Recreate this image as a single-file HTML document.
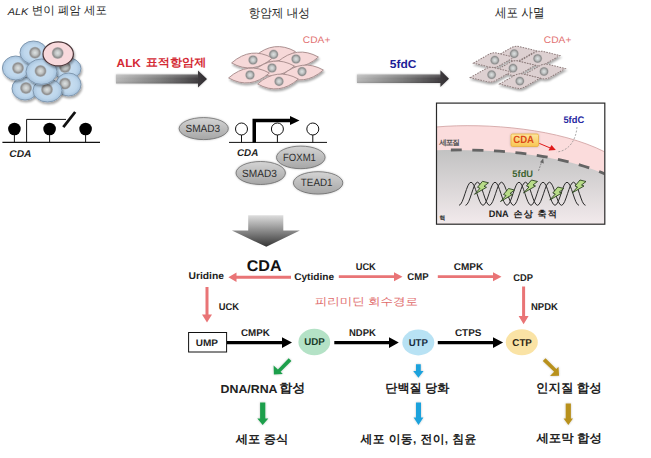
<!DOCTYPE html>
<html><head><meta charset="utf-8">
<style>
html,body{margin:0;padding:0;background:#fff;width:651px;height:458px;overflow:hidden}
svg{display:block;font-family:"Liberation Sans",sans-serif}
</style></head><body>
<svg width="651" height="458" viewBox="0 0 651 458" text-rendering="geometricPrecision">
<defs>
  <radialGradient id="nuc" cx="50%" cy="50%" r="50%">
    <stop offset="0" stop-color="#dde2e2"/><stop offset="0.45" stop-color="#c0c3c3"/><stop offset="0.8" stop-color="#8e8e8e"/><stop offset="1" stop-color="#9a9a9a" stop-opacity="0.6"/>
  </radialGradient>
  <radialGradient id="bcell" cx="50%" cy="50%" r="50%">
    <stop offset="0" stop-color="#cbe0f1"/><stop offset="0.7" stop-color="#bdd6ec"/><stop offset="1" stop-color="#a7c3dd"/>
  </radialGradient>
  <linearGradient id="arr" x1="0" x2="1" y1="0" y2="0">
    <stop offset="0" stop-color="#b8b8b8"/><stop offset="0.5" stop-color="#7a7a7a"/><stop offset="1" stop-color="#302c30"/>
  </linearGradient>
  <linearGradient id="bev" x1="0" x2="0" y1="0" y2="1">
    <stop offset="0" stop-color="#fff" stop-opacity="0.22"/><stop offset="0.5" stop-color="#fff" stop-opacity="0"/><stop offset="1" stop-color="#000" stop-opacity="0.12"/>
  </linearGradient>
  <linearGradient id="darr" x1="0" x2="0" y1="0" y2="1">
    <stop offset="0" stop-color="#dedede"/><stop offset="1" stop-color="#353535"/>
  </linearGradient>
  <linearGradient id="ell" x1="0" x2="0" y1="0" y2="1">
    <stop offset="0" stop-color="#d4d4d4"/><stop offset="1" stop-color="#a6a6a6"/>
  </linearGradient>
  <linearGradient id="nucl" x1="0" x2="0" y1="150" y2="224" gradientUnits="userSpaceOnUse">
    <stop offset="0" stop-color="#c2c2c2"/><stop offset="1" stop-color="#f2eaec"/>
  </linearGradient>
  <linearGradient id="cdabox" x1="0" x2="0" y1="0" y2="1">
    <stop offset="0" stop-color="#fde7a0"/><stop offset="1" stop-color="#f8c552"/>
  </linearGradient>
  <filter id="sh" x="-20%" y="-20%" width="140%" height="140%">
    <feGaussianBlur in="SourceAlpha" stdDeviation="1.1"/><feOffset dx="1.2" dy="1.5"/>
    <feComponentTransfer><feFuncA type="linear" slope="0.35"/></feComponentTransfer>
    <feMerge><feMergeNode/><feMergeNode in="SourceGraphic"/></feMerge>
  </filter>
  <filter id="glow" x="-30%" y="-30%" width="160%" height="160%">
    <feGaussianBlur in="SourceAlpha" stdDeviation="0.8"/>
    <feComponentTransfer><feFuncA type="linear" slope="0.25"/></feComponentTransfer>
    <feMerge><feMergeNode/><feMergeNode in="SourceGraphic"/></feMerge>
  </filter>
  <path id="spindle" d="M-20.5,1 Q0,-14.5 20.5,-1 Q0,14.5 -20.5,1 Z"/>
  <path id="dcell" d="M-20.5,1.5 L-4,-6.5 Q0,-8 4,-6.8 L20.5,-1.5 L4,6.5 Q0,8 -4,6.8 Z"/>
  <path id="bolt" d="M1.5,-6.5 L7.5,-5 L3,-1.5 L5.5,-0.5 L-6.5,6.5 L-1,0.5 L-3.5,-0.5 Z"/>
  <clipPath id="boxclip"><rect x="437" y="103.6" width="167.3" height="120.2"/></clipPath>
</defs>

<!-- Lung cancer cells cluster -->
<g filter="url(#sh)"><ellipse cx="67" cy="68.5" rx="14" ry="11" fill="url(#bcell)" stroke="#8098b0" stroke-width="1"/><circle cx="65" cy="67" r="6" fill="url(#nuc)"/></g>
<g filter="url(#sh)"><ellipse cx="68.5" cy="84.5" rx="12.5" ry="11.5" fill="url(#bcell)" stroke="#8098b0" stroke-width="1"/><circle cx="65" cy="83.6" r="6" fill="url(#nuc)"/></g>
<g filter="url(#sh)"><ellipse cx="25" cy="88.5" rx="13" ry="11.5" fill="url(#bcell)" stroke="#8098b0" stroke-width="1"/><circle cx="26" cy="88" r="6" fill="url(#nuc)"/></g>
<g filter="url(#sh)"><ellipse cx="47.5" cy="90.5" rx="14.5" ry="11.5" fill="url(#bcell)" stroke="#8098b0" stroke-width="1"/><circle cx="47" cy="89.6" r="6" fill="url(#nuc)"/></g>
<g filter="url(#sh)"><ellipse cx="15.7" cy="68" rx="13.3" ry="12" fill="url(#bcell)" stroke="#8098b0" stroke-width="1"/><circle cx="18" cy="68" r="6" fill="url(#nuc)"/></g>
<g filter="url(#sh)"><ellipse cx="33.5" cy="52.5" rx="13.5" ry="11.5" fill="url(#bcell)" stroke="#8098b0" stroke-width="1"/><circle cx="35" cy="52.7" r="6" fill="url(#nuc)"/></g>
<g filter="url(#sh)"><ellipse cx="41.5" cy="71.7" rx="15.5" ry="12.7" fill="url(#bcell)" stroke="#8098b0" stroke-width="1"/><circle cx="40.5" cy="71" r="6" fill="url(#nuc)"/></g>
<g filter="url(#sh)"><ellipse cx="58.2" cy="53.9" rx="15.2" ry="12" fill="#f8d9dc" stroke="#4a3538" stroke-width="1.2"/><circle cx="57.7" cy="53" r="6" fill="url(#nuc)"/></g>

<!-- Gene diagram left -->
<g stroke="#111" fill="none">
  <line x1="2.4" y1="142.4" x2="100" y2="142.4" stroke-width="1.2"/>
  <line x1="14.4" y1="129" x2="14.4" y2="142.4" stroke-width="1"/>
  <line x1="49.6" y1="129" x2="49.6" y2="142.4" stroke-width="1"/>
  <line x1="85.6" y1="129" x2="85.6" y2="142.4" stroke-width="1"/>
  <polyline points="26.6,142.4 26.6,119.4 66,119.4" stroke-width="1"/>
  <line x1="63.3" y1="127.2" x2="75.2" y2="112" stroke-width="2.8"/>
</g>
<g fill="#000"><circle cx="14.4" cy="129" r="6.3"/><circle cx="49.6" cy="129" r="6.3"/><circle cx="85.6" cy="129" r="6.3"/></g>

<!-- ALK arrow -->
<g filter="url(#glow)"><path d="M116,74.4 H198 V70.4 L207,79 L198,87.6 V83.4 H116 Z" fill="url(#arr)"/></g>
<path d="M116,74.4 H198 V83.4 H116 Z" fill="url(#bev)"/>

<!-- pink cells -->
<g filter="url(#sh)" fill="#f6d8d8" stroke="#a58a8a" stroke-width="0.9">
  <use href="#spindle" transform="translate(275,54) rotate(-4)"/>
  <use href="#spindle" transform="translate(298,59.5) rotate(-4)"/>
  <use href="#spindle" transform="translate(252,60.5) rotate(-4)"/>
  <use href="#spindle" transform="translate(274,68.5) rotate(-4)"/>
  <use href="#spindle" transform="translate(303,72.5) rotate(-4)"/>
  <use href="#spindle" transform="translate(249,75.5) rotate(-4)"/>
  <use href="#spindle" transform="translate(278,81.5) rotate(-4)"/>
</g>
<g fill="url(#nuc)">
  <circle cx="273.6" cy="54.4" r="4.8"/><circle cx="296" cy="59" r="4.8"/><circle cx="253" cy="60" r="4.8"/>
  <circle cx="272" cy="68" r="4.8"/><circle cx="302" cy="71.6" r="4.8"/><circle cx="250" cy="75" r="4.8"/>
  <circle cx="279" cy="81.4" r="4.8"/>
</g>

<!-- Gene diagram middle -->
<ellipse cx="203.7" cy="128.6" rx="24.6" ry="11" stroke="#6a6a6a" fill="url(#ell)" stroke-width="0.8" filter="url(#glow)"/>
<g stroke="#111" fill="none" stroke-width="1">
  <line x1="229" y1="142.4" x2="327" y2="142.4"/>
  <line x1="241.5" y1="135" x2="241.5" y2="142.4"/>
  <line x1="277.4" y1="135" x2="277.4" y2="142.4"/>
  <line x1="312.8" y1="135" x2="312.8" y2="142.4"/>
  <circle cx="241.5" cy="129" r="6" fill="#fff"/>
  <circle cx="277.4" cy="129" r="6" fill="#fff"/>
  <circle cx="312.8" cy="129" r="6" fill="#fff"/>
</g>
<path d="M252.5,142.4 V118.8 H290.5 V122.3 H256 V142.4 Z" fill="#000"/>
<path d="M290,115.9 L299.5,120.5 L290,125 Z" fill="#000"/>
<g stroke="#6a6a6a" fill="url(#ell)" stroke-width="0.8" filter="url(#glow)">
  <ellipse cx="300.8" cy="157.4" rx="24.3" ry="11.3"/>
  <ellipse cx="260.7" cy="173" rx="24.7" ry="11.5"/>
  <ellipse cx="318.1" cy="182.9" rx="24.7" ry="11.2"/>
</g>

<!-- 5fdC arrow -->
<g filter="url(#glow)"><path d="M357,74.6 H440.4 V70.3 L449,78.8 L440.4,87 V83 H357 Z" fill="url(#arr)"/></g>
<path d="M357,74.6 H440.4 V83 H357 Z" fill="url(#bev)"/>

<!-- dead cells -->
<g filter="url(#sh)" fill="#ddd0d1" stroke="#8e7c7c" stroke-width="1" stroke-dasharray="1.6 1.1">
  <use href="#dcell" transform="translate(516,53.7) rotate(-4)"/>
  <use href="#dcell" transform="translate(539.6,58.5) rotate(-4)"/>
  <use href="#dcell" transform="translate(493.8,60.2) rotate(-4)"/>
  <use href="#dcell" transform="translate(515,68.2) rotate(-4)"/>
  <use href="#dcell" transform="translate(545,71.5) rotate(-4)"/>
  <use href="#dcell" transform="translate(490.6,74.7) rotate(-4)"/>
  <use href="#dcell" transform="translate(519.8,81.1) rotate(-4)"/>
</g>
<g fill="url(#nuc)">
  <circle cx="514.2" cy="53.7" r="4.6"/><circle cx="537.6" cy="58.5" r="4.6"/><circle cx="494.8" cy="60.2" r="4.6"/>
  <circle cx="513" cy="68.2" r="4.6"/><circle cx="544" cy="71.5" r="4.6"/><circle cx="491.6" cy="74.7" r="4.6"/>
  <circle cx="519.8" cy="81.1" r="4.6"/>
</g>

<!-- inset box -->
<rect x="436.5" y="103.1" width="168.3" height="121.1" fill="#fff"/>
<g clip-path="url(#boxclip)">
  <path d="M436,127 C488,122.5 560,129 605,152 V230 H436 Z" fill="#fbdcdc" stroke="#d4a6a6" stroke-width="0.9"/>
  <path d="M436,150.2 C490,149 555,153 605,174 V230 H436 Z" fill="url(#nucl)"/>
  <path d="M445,150.1 C497,149.1 557,153.3 605,174" fill="none" stroke="#646464" stroke-width="2.8" stroke-dasharray="11 10.5" stroke-dashoffset="15.5"/>
</g>
<rect x="436.5" y="103.1" width="168.3" height="121.1" fill="none" stroke="#2a2a2a" stroke-width="1.2"/>
<rect x="511" y="134" width="27.5" height="12.5" rx="1.5" fill="url(#cdabox)" stroke="#e8b040" stroke-width="0.8" filter="url(#glow)"/>
<path d="M577,127 C576,140 569,151 556.6,152" fill="none" stroke="#888" stroke-width="0.7" stroke-dasharray="2 1.5"/>
<line x1="539.3" y1="143.4" x2="551" y2="148.3" stroke="#e01818" stroke-width="1"/>
<path d="M555.8,150.1 L548.5,150.5 L551.5,145 Z" fill="#e01818"/>
<line x1="538.5" y1="170.9" x2="542" y2="161" stroke="#777" stroke-width="0.8" stroke-dasharray="2 1"/>
<path d="M543.2,158.3 L543.8,163.5 L540,162.3 Z" fill="#666"/>
<g fill="none" stroke="#2a2a2a" stroke-width="1">
  <path d="M459.0,205.3 C463.4,205.3 466.6,182.2 471.0,182.2 S478.6,205.3 483.0,205.3 S490.6,182.2 495.0,182.2 S502.6,205.3 507.0,205.3 S514.6,182.2 519.0,182.2 S526.6,205.3 531.0,205.3 S538.6,182.2 543.0,182.2 S550.6,205.3 555.0,205.3 S562.6,182.2 567.0,182.2 S574.6,205.3 579.0,205.3"/>
  <path d="M465.5,205.3 C469.9,205.3 473.1,182.2 477.5,182.2 S485.1,205.3 489.5,205.3 S497.1,182.2 501.5,182.2 S509.1,205.3 513.5,205.3 S521.1,182.2 525.5,182.2 S533.1,205.3 537.5,205.3 S545.1,182.2 549.5,182.2 S557.1,205.3 561.5,205.3 S569.1,182.2 573.5,182.2 S581.1,205.3 585.5,205.3"/>
</g>
<g fill="#b8dc88" stroke="#243a1a" stroke-width="0.85">
  <use href="#bolt" transform="translate(481,187.8)"/>
  <use href="#bolt" transform="translate(507,195)"/>
  <use href="#bolt" transform="translate(530,186.5)"/>
  <use href="#bolt" transform="translate(556.3,193.5)"/>
  <use href="#bolt" transform="translate(578.5,186.5)"/>
</g>

<!-- big down arrow -->
<path d="M248.2,215.2 H283.3 V230.6 H299.9 L266.3,246.7 L231.9,230.6 H248.2 Z" fill="url(#darr)"/>

<!-- red arrows -->
<g fill="#e97476">
  <path d="M291,275.8 H236.5 V272.5 L228.4,277.3 L236.5,282.1 V278.8 H291 Z"/>
  <path d="M338.8,275.3 H394 V272.2 L402.5,276.7 L394,281.2 V278.1 H338.8 Z"/>
  <path d="M437.8,275.3 H493 V272.2 L501.5,276.7 L493,281.2 V278.1 H437.8 Z"/>
  <path d="M205.5,287 V314.5 H202 L207,322.6 L212,314.5 H208.5 V287 Z"/>
  <path d="M522.1,286.4 V316 H518.6 L523.6,324.2 L528.6,316 H525.1 V286.4 Z"/>
</g>
<!-- UMP box -->
<rect x="188.6" y="332.5" width="38" height="19.5" fill="#fff" stroke="#111" stroke-width="1"/>
<!-- black arrows -->
<g fill="#000">
  <path d="M227,340.9 H282 V337.2 L292,342.6 L282,348 V344.3 H227 Z"/>
  <path d="M334.3,340.9 H389 V337.2 L398.8,342.6 L389,348 V344.3 H334.3 Z"/>
  <path d="M437.8,340.9 H493 V337.2 L503.1,342.6 L493,348 V344.3 H437.8 Z"/>
</g>
<ellipse cx="314.3" cy="342" rx="15.9" ry="13.2" fill="#b4e2c6"/>
<ellipse cx="418.3" cy="342.5" rx="16" ry="12.9" fill="#b8e2f4"/>
<ellipse cx="521.8" cy="342.2" rx="16" ry="13" fill="#fae3a5"/>
<!-- colored arrows -->
<g fill="#1e9f4c" filter="url(#glow)">
  <path d="M288.7,358.2 L291.4,360.9 L280.6,371.7 L282.8,373.9 L273.9,374.5 L273.6,365.4 L277.9,369.5 Z" />
  <path d="M260.1,402.6 H265.3 V418.6 H268.3 L262.7,425.1 L257.3,418.6 H260.1 Z"/>
</g>
<g fill="#1ea2dc" filter="url(#glow)">
  <path d="M416,364.3 H420.8 V371 H423.6 L418.4,377.7 L413.2,371 H416 Z"/>
  <path d="M416,402.6 H421 V417.6 H423.4 L418.5,425.1 L413.6,417.6 H416 Z"/>
</g>
<g fill="#b8911e" filter="url(#glow)">
  <path d="M542.8,360.9 L545.5,358.2 L556.3,369 L558.5,366.8 L559.1,375.7 L550,376 L554.1,371.7 Z"/>
  <path d="M565.7,403.6 H570.9 V418.6 H573 L568.3,424.9 L563.6,418.6 H565.7 Z"/>
</g>

<g>
<text x="7.69" y="14.78" textLength="20.67" lengthAdjust="spacingAndGlyphs" font-size="10.00" font-style="italic" fill="#2a2a2a">ALK</text>
<text x="31.63" y="13.89" textLength="75.39" lengthAdjust="spacing" font-size="11.51" fill="#2a2a2a">변이 폐암 세포</text>
<text x="248.49" y="16.86" textLength="61.56" lengthAdjust="spacingAndGlyphs" font-size="12.28" fill="#2a2a2a">항암제 내성</text>
<text x="494.95" y="16.89" textLength="49.52" lengthAdjust="spacingAndGlyphs" font-size="13.06" fill="#2a2a2a">세포 사멸</text>
<text x="116.64" y="66.98" textLength="24.22" lengthAdjust="spacingAndGlyphs" font-size="11.50" font-weight="bold" fill="#d42a34">ALK</text>
<text x="145.74" y="66.00" textLength="60.64" lengthAdjust="spacingAndGlyphs" font-size="11.18" font-weight="bold" fill="#d42a34">표적항암제</text>
<text x="302.89" y="42.83" textLength="27.47" lengthAdjust="spacingAndGlyphs" font-size="9.50" fill="#e27272">CDA+</text>
<text x="389.88" y="67.68" textLength="26.67" lengthAdjust="spacingAndGlyphs" font-size="11.50" font-weight="bold" fill="#1e1e98">5fdC</text>
<text x="543.89" y="42.63" textLength="27.51" lengthAdjust="spacingAndGlyphs" font-size="9.50" fill="#e27272">CDA+</text>
<text x="9.28" y="156.93" textLength="22.15" lengthAdjust="spacingAndGlyphs" font-size="9.80" font-weight="bold" font-style="italic" fill="#1e1e1e">CDA</text>
<text x="185.53" y="131.86" textLength="34.69" lengthAdjust="spacingAndGlyphs" font-size="10.50" fill="#2e2e2e">SMAD3</text>
<text x="237.02" y="155.61" textLength="21.32" lengthAdjust="spacingAndGlyphs" font-size="9.80" font-weight="bold" font-style="italic" fill="#1e1e1e">CDA</text>
<text x="283.03" y="160.97" textLength="32.88" lengthAdjust="spacingAndGlyphs" font-size="10.50" fill="#2e2e2e">FOXM1</text>
<text x="241.95" y="176.97" textLength="34.91" lengthAdjust="spacingAndGlyphs" font-size="10.50" fill="#2e2e2e">SMAD3</text>
<text x="300.82" y="185.51" textLength="31.72" lengthAdjust="spacingAndGlyphs" font-size="10.50" fill="#2e2e2e">TEAD1</text>
<text x="439.28" y="144.72" textLength="20.42" lengthAdjust="spacing" font-size="7.56" font-weight="bold" fill="#555">세포질</text>
<text x="513.30" y="142.73" textLength="20.69" lengthAdjust="spacingAndGlyphs" font-size="10.50" font-weight="bold" fill="#dc4a18">CDA</text>
<text x="563.38" y="122.66" textLength="20.76" lengthAdjust="spacingAndGlyphs" font-size="9.50" font-weight="bold" fill="#2a2aa2">5fdC</text>
<text x="512.36" y="176.74" textLength="20.72" lengthAdjust="spacingAndGlyphs" font-size="9.50" font-weight="bold" fill="#3e6432">5fdU</text>
<text x="488.79" y="216.73" textLength="19.81" lengthAdjust="spacingAndGlyphs" font-size="9.50" font-weight="bold" fill="#1e1e1e">DNA</text>
<text x="513.46" y="216.81" textLength="43.50" lengthAdjust="spacing" font-size="9.12" font-weight="bold" fill="#1e1e1e">손상 축적</text>
<text x="439.39" y="219.76" textLength="5.72" lengthAdjust="spacingAndGlyphs" font-size="6.17" font-weight="bold" fill="#333">핵</text>
<text x="246.70" y="270.82" textLength="34.93" lengthAdjust="spacingAndGlyphs" font-size="15.50" font-weight="bold" fill="#111">CDA</text>
<text x="188.44" y="278.89" textLength="35.49" lengthAdjust="spacingAndGlyphs" font-size="9.80" font-weight="bold" fill="#222">Uridine</text>
<text x="294.15" y="279.83" textLength="39.93" lengthAdjust="spacingAndGlyphs" font-size="9.80" font-weight="bold" fill="#222">Cytidine</text>
<text x="355.68" y="269.64" textLength="20.13" lengthAdjust="spacingAndGlyphs" font-size="9.80" font-weight="bold" fill="#222">UCK</text>
<text x="407.34" y="279.72" textLength="21.24" lengthAdjust="spacingAndGlyphs" font-size="9.80" font-weight="bold" fill="#222">CMP</text>
<text x="453.84" y="269.62" textLength="29.39" lengthAdjust="spacingAndGlyphs" font-size="9.80" font-weight="bold" fill="#222">CMPK</text>
<text x="513.18" y="280.62" textLength="19.73" lengthAdjust="spacingAndGlyphs" font-size="9.80" font-weight="bold" fill="#222">CDP</text>
<text x="531.02" y="309.62" textLength="26.91" lengthAdjust="spacingAndGlyphs" font-size="9.80" font-weight="bold" fill="#222">NPDK</text>
<text x="218.63" y="309.55" textLength="20.30" lengthAdjust="spacingAndGlyphs" font-size="9.80" font-weight="bold" fill="#222">UCK</text>
<text x="314.89" y="304.54" textLength="103.03" lengthAdjust="spacingAndGlyphs" font-size="10.65" fill="#e06a6a">피리미딘 회수경로</text>
<text x="195.78" y="345.62" textLength="22.26" lengthAdjust="spacingAndGlyphs" font-size="9.50" font-weight="bold" fill="#222">UMP</text>
<text x="240.98" y="335.92" textLength="28.80" lengthAdjust="spacingAndGlyphs" font-size="9.80" font-weight="bold" fill="#222">CMPK</text>
<text x="304.33" y="344.92" textLength="20.54" lengthAdjust="spacingAndGlyphs" font-size="10.00" font-weight="bold" fill="#173a26">UDP</text>
<text x="349.02" y="335.62" textLength="26.82" lengthAdjust="spacingAndGlyphs" font-size="9.80" font-weight="bold" fill="#222">NDPK</text>
<text x="408.65" y="345.52" textLength="19.22" lengthAdjust="spacingAndGlyphs" font-size="10.00" font-weight="bold" fill="#172c3e">UTP</text>
<text x="454.96" y="335.62" textLength="26.46" lengthAdjust="spacingAndGlyphs" font-size="9.80" font-weight="bold" fill="#222">CTPS</text>
<text x="512.35" y="345.96" textLength="19.49" lengthAdjust="spacingAndGlyphs" font-size="10.00" font-weight="bold" fill="#2e2614">CTP</text>
<text x="220.55" y="392.76" textLength="56.93" lengthAdjust="spacingAndGlyphs" font-size="11.50" font-weight="bold" fill="#222">DNA/RNA</text>
<text x="279.29" y="391.89" textLength="25.90" lengthAdjust="spacingAndGlyphs" font-size="12.38" font-weight="bold" fill="#222">합성</text>
<text x="385.35" y="391.94" textLength="63.97" lengthAdjust="spacingAndGlyphs" font-size="12.00" font-weight="bold" fill="#222">단백질 당화</text>
<text x="536.01" y="391.58" textLength="65.69" lengthAdjust="spacingAndGlyphs" font-size="12.30" font-weight="bold" fill="#222">인지질 합성</text>
<text x="235.77" y="442.61" textLength="52.55" lengthAdjust="spacingAndGlyphs" font-size="11.61" font-weight="bold" fill="#222">세포 증식</text>
<text x="360.59" y="442.50" textLength="115.61" lengthAdjust="spacing" font-size="11.82" font-weight="bold" fill="#222">세포 이동, 전이, 침윤</text>
<text x="536.49" y="441.58" textLength="65.27" lengthAdjust="spacingAndGlyphs" font-size="11.71" font-weight="bold" fill="#222">세포막 합성</text>
</g>
</svg>
</body></html>
